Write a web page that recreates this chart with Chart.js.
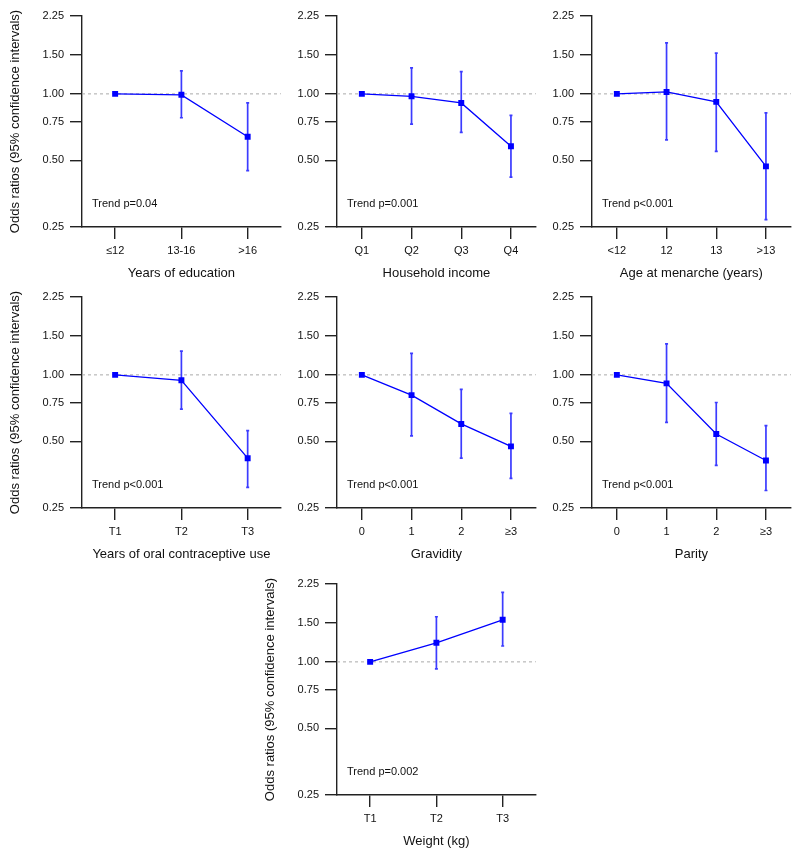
<!DOCTYPE html>
<html>
<head>
<meta charset="utf-8">
<script src="https://cdn.jsdelivr.net/npm/chart.js@4.4.1/dist/chart.umd.min.js"></script>
<style>
body { margin: 0; background: #fff; }
#wrap { position: relative; width: 800px; height: 854px; }
.panel { position: absolute; width: 285px; height: 285px; }
</style>
</head>
<body>
<div id="wrap">
  <div class="panel" style="left:0px;top:0px"><canvas id="p1" width="285" height="285"></canvas></div>
  <div class="panel" style="left:255px;top:0px"><canvas id="p2" width="285" height="285"></canvas></div>
  <div class="panel" style="left:510px;top:0px"><canvas id="p3" width="285" height="285"></canvas></div>
  <div class="panel" style="left:0px;top:281px"><canvas id="p4" width="285" height="285"></canvas></div>
  <div class="panel" style="left:255px;top:281px"><canvas id="p5" width="285" height="285"></canvas></div>
  <div class="panel" style="left:510px;top:281px"><canvas id="p6" width="285" height="285"></canvas></div>
  <div class="panel" style="left:255px;top:568px"><canvas id="p7" width="285" height="285"></canvas></div>
</div>
<script>
// log y axis, same for every panel
var yTicks = [0.25, 0.5, 0.75, 1, 1.5, 2.25];
var yTitle = 'Odds ratios (95% confidence intervals)';

// reference category has no interval (null)
var eduCats = ['≤12', '13-16', '>16'];
var eduOR = [1.00, 0.99, 0.64];
var eduLo = [null, 0.78, 0.45];
var eduHi = [null, 1.27, 0.91];

var incCats = ['Q1', 'Q2', 'Q3', 'Q4'];
var incOR = [1.00, 0.975, 0.91, 0.58];
var incLo = [null, 0.73, 0.67, 0.42];
var incHi = [null, 1.31, 1.26, 0.80];

var menCats = ['<12', '12', '13', '>13'];
var menOR = [1.00, 1.02, 0.92, 0.47];
var menLo = [null, 0.62, 0.55, 0.27];
var menHi = [null, 1.70, 1.53, 0.82];

var ocCats = ['T1', 'T2', 'T3'];
var ocOR = [1.00, 0.945, 0.42];
var ocLo = [null, 0.70, 0.31];
var ocHi = [null, 1.28, 0.56];

var gravCats = ['0', '1', '2', '≥3'];
var gravOR = [1.00, 0.81, 0.60, 0.475];
var gravLo = [null, 0.53, 0.42, 0.34];
var gravHi = [null, 1.25, 0.86, 0.67];

var parCats = ['0', '1', '2', '≥3'];
var parOR = [1.00, 0.915, 0.54, 0.41];
var parLo = [null, 0.61, 0.39, 0.30];
var parHi = [null, 1.38, 0.75, 0.59];

var wtCats = ['T1', 'T2', 'T3'];
var wtOR = [1.00, 1.22, 1.55];
var wtLo = [null, 0.93, 1.18];
var wtHi = [null, 1.60, 2.06];

var panels = [
    { id: 'p1', cats: eduCats, or: eduOR, lo: eduLo, hi: eduHi, xTitle: 'Years of education', trend: 'Trend p=0.04', showY: true },
    { id: 'p2', cats: incCats, or: incOR, lo: incLo, hi: incHi, xTitle: 'Household income', trend: 'Trend p=0.001', showY: false },
    { id: 'p3', cats: menCats, or: menOR, lo: menLo, hi: menHi, xTitle: 'Age at menarche (years)', trend: 'Trend p<0.001', showY: false },
    { id: 'p4', cats: ocCats, or: ocOR, lo: ocLo, hi: ocHi, xTitle: 'Years of oral contraceptive use', trend: 'Trend p<0.001', showY: true },
    { id: 'p5', cats: gravCats, or: gravOR, lo: gravLo, hi: gravHi, xTitle: 'Gravidity', trend: 'Trend p<0.001', showY: false },
    { id: 'p6', cats: parCats, or: parOR, lo: parLo, hi: parHi, xTitle: 'Parity', trend: 'Trend p<0.001', showY: false },
    { id: 'p7', cats: wtCats, or: wtOR, lo: wtLo, hi: wtHi, xTitle: 'Weight (kg)', trend: 'Trend p=0.002', showY: true },
];

Chart.defaults.font.family = '"Liberation Sans", Arial, sans-serif';
Chart.defaults.color = '#111';

const refLine = {
    id: 'refLine',
    beforeDatasetsDraw: (chart) => {
        const {ctx, chartArea} = chart;
        const y = chart.scales.y.getPixelForValue(1);
        ctx.save();
        ctx.strokeStyle = '#aaa';
        ctx.lineWidth = 1;
        ctx.setLineDash([3, 3]);
        ctx.beginPath();
        ctx.moveTo(chartArea.left, y);
        ctx.lineTo(chartArea.right, y);
        ctx.stroke();
        ctx.restore();
    }
};

const errorBars = {
    id: 'errorBars',
    beforeDatasetsDraw: (chart, args, options) => {
        const {ctx} = chart;
        const xs = chart.scales.x, ys = chart.scales.y;
        ctx.save();
        ctx.strokeStyle = '#3c3cff';
        ctx.lineWidth = 1.7;
        options.lo.forEach(function(lo, i) {
            const hi = options.hi[i];
            if (lo == null || hi == null) return;
            const x = xs.getPixelForValue(i);
            const y1 = ys.getPixelForValue(lo);
            const y2 = ys.getPixelForValue(hi);
            ctx.beginPath();
            ctx.moveTo(x, y1);
            ctx.lineTo(x, y2);
            ctx.moveTo(x - 1.5, y1);
            ctx.lineTo(x + 1.5, y1);
            ctx.moveTo(x - 1.5, y2);
            ctx.lineTo(x + 1.5, y2);
            ctx.stroke();
        });
        ctx.restore();
    }
};

const trendText = {
    id: 'trendText',
    afterDraw: (chart, args, options) => {
        const {ctx, chartArea} = chart;
        ctx.save();
        ctx.font = '11px "Liberation Sans", Arial, sans-serif';
        ctx.fillStyle = '#111';
        ctx.textBaseline = 'middle';
        ctx.fillText(options.text, chartArea.left + 10, chartArea.bottom - 23);
        ctx.restore();
    }
};

panels.forEach(function(p) {
    new Chart(document.getElementById(p.id), {
        type: 'line',
        data: {
            labels: p.cats,
            datasets: [{
                data: p.or,
                borderColor: '#0000ff',
                borderWidth: 1.3,
                backgroundColor: '#0000ff',
                pointStyle: 'rect',
                pointRadius: 4.2,
                pointBorderWidth: 0,
                pointBackgroundColor: '#0000ff',
                tension: 0,
            }]
        },
        options: {
            responsive: false,
            animation: false,
            layout: { padding: { top: 16, right: 2, left: 0, bottom: 0 } },
            plugins: {
                legend: { display: false },
                tooltip: { enabled: false },
                errorBars: { lo: p.lo, hi: p.hi },
                trendText: { text: p.trend },
            },
            scales: {
                x: {
                    type: 'category',
                    offset: true,
                    afterFit: function(s) { s.height = 58; },
                    grid: { drawOnChartArea: false, offset: false, tickLength: 12, color: '#222', lineWidth: 1.4 },
                    border: { display: true, color: '#222', width: 1.4 },
                    ticks: { font: { size: 11 }, color: '#111', padding: 5, maxRotation: 0 },
                    title: { display: true, text: p.xTitle, font: { size: 13 }, color: '#111', padding: { top: 4, bottom: 4 } },
                },
                y: {
                    type: 'logarithmic',
                    min: 0.25,
                    max: 2.25,
                    afterBuildTicks: function(s) { s.ticks = yTicks.map(function(v) { return { value: v }; }); },
                    afterFit: function(s) { s.width = 82; },
                    grid: { drawOnChartArea: false, tickLength: 12, color: '#222', lineWidth: 1.4 },
                    border: { display: true, color: '#222', width: 1.4 },
                    ticks: { font: { size: 11 }, color: '#111', padding: 6, callback: function(v) { return Number(v).toFixed(2); } },
                    title: { display: p.showY, text: yTitle, font: { size: 13 }, color: '#111', padding: { top: 8, bottom: 0 } },
                },
            },
        },
        plugins: [refLine, errorBars, trendText],
    });
});
</script>
</body>
</html>
